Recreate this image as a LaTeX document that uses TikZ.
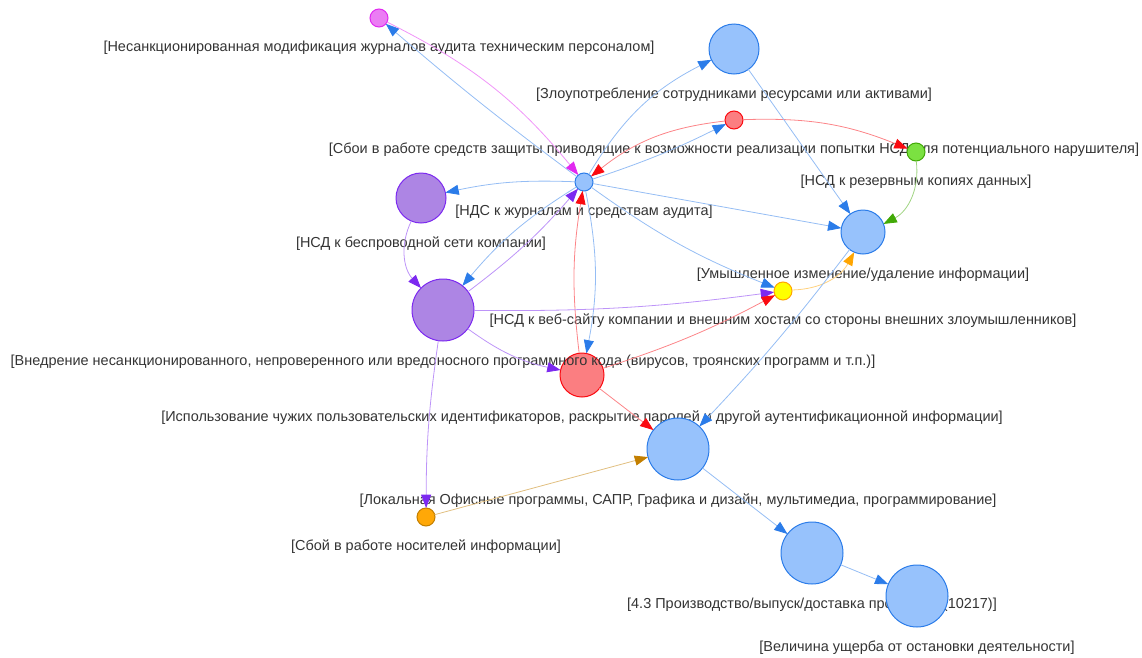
\documentclass[tikz,border=0pt]{standalone}
\usepackage{fontspec}
\setmainfont{Liberation Sans}
\usetikzlibrary{arrows.meta}

\definecolor{blueF}{HTML}{97C2FC}
\definecolor{blueB}{HTML}{2B7CE9}
\definecolor{redF}{HTML}{FB7E81}
\definecolor{redB}{HTML}{FA0A10}
\definecolor{greenF}{HTML}{7BE141}
\definecolor{greenB}{HTML}{41A906}
\definecolor{purpF}{HTML}{AD85E4}
\definecolor{purpB}{HTML}{7C29F0}
\definecolor{magF}{HTML}{EB7DF4}
\definecolor{magB}{HTML}{E129F0}
\definecolor{yelF}{HTML}{FFFF00}
\definecolor{yelB}{HTML}{FFA500}
\definecolor{orF}{HTML}{FFA807}
\definecolor{orB}{HTML}{C37F00}
\definecolor{txt}{HTML}{343434}

\begin{document}
\begin{tikzpicture}[x=0.75pt, y=-0.75pt, label distance=10pt,
    main/.style = {draw, circle, inner sep=0pt, outer sep=0pt, line width=0.75pt},
    lab/.style = {font=\fontsize{10.85}{12}\selectfont, text=txt, inner sep=0pt, text height=7.8pt, text depth=2.3pt},
    dot/.style = {minimum size=13.5pt},
    mid/.style = {minimum size=33pt},
    big/.style = {minimum size=37.5pt},
    huge/.style = {minimum size=46.5pt},
    nblue/.style = {fill=blueF, draw=blueB},
    nred/.style = {fill=redF, draw=redB},
    ngreen/.style = {fill=greenF, draw=greenB},
    npurp/.style = {fill=purpF, draw=purpB},
    nmag/.style = {fill=magF, draw=magB},
    nyel/.style = {fill=yelF, draw=yelB},
    nor/.style = {fill=orF, draw=orB},
    edge/.style = {line width=0.6pt},
    blueedge/.style = {edge, draw=blueB!50!white, -{Triangle[length=10pt, width=7.5pt, color=blueB]}},
    rededge/.style = {edge, draw=redB!50!white, -{Triangle[length=10pt, width=7.5pt, color=redB]}},
    greenedge/.style = {edge, draw=greenB!50!white, -{Triangle[length=10pt, width=7.5pt, color=greenB]}},
    purpedge/.style = {edge, draw=purpB!50!white, -{Triangle[length=10pt, width=7.5pt, color=purpB]}},
    magedge/.style = {edge, draw=magB!50!white, -{Triangle[length=10pt, width=7.5pt, color=magB]}},
    yeledge/.style = {edge, draw=yelB!50!white, -{Triangle[length=10pt, width=7.5pt, color=yelB]}},
    oredge/.style = {edge, draw=orB!50!white, -{Triangle[length=10pt, width=7.5pt, color=orB]}}]
    \useasboundingbox (0,0) rectangle (1142,657);
    \node[main, nmag, dot](1) at (379,18) [label={[lab, name=l1]below:{[Несанкционированная модификация журналов аудита техническим персоналом]}}] {};
    \node[main, nblue, dot](2) at (584,182) [label={[lab, name=l2]below:{[НДС к журналам и средствам аудита]}}] {};
    \node[main, nblue, big](3) at (734,49) [label={[lab, name=l3]below:{[Злоупотребление сотрудниками ресурсами или активами]}}] {};
    \node[main, nred, dot](4) at (734,120) [label={[lab, name=l4]below:{[Сбои в работе средств защиты приводящие к возможности реализации попытки НСД для потенциального нарушителя]}}] {};
    \node[main, ngreen, dot](5) at (916,152) [label={[lab, name=l5]below:{[НСД к резервным копиях данных]}}] {};
    \node[main, nblue, mid](6) at (863,232) [label={[lab, name=l6]below:{[Умышленное изменение/удаление информации]}}] {};
    \node[main, nyel, dot](7) at (783,291) [label={[lab, name=l7]below:{[НСД к веб-сайту компании и внешним хостам со стороны внешних злоумышленников]}}] {};
    \node[main, npurp, big](8) at (421,198) [label={[lab, name=l8]below:{[НСД к беспроводной сети компании]}}] {};
    \node[main, nred, mid](10) at (582,375) [label={[lab, name=l10]below:{[Использование чужих пользовательских идентификаторов, раскрытие паролей и другой аутентификационной информации]}}] {};
    \node[main, npurp, huge](9) at (443,310) [label={[lab, name=l9]below:{[Внедрение несанкционированного, непроверенного или вредоносного программного кода (вирусов, троянских программ и т.п.)]}}] {};
    \node[main, nblue, huge](11) at (678,449) [label={[lab, name=l11]below:{[Локальная Офисные программы, САПР, Графика и дизайн, мультимедиа, программирование]}}] {};
    \node[main, nor, dot](12) at (426,517) [label={[lab, name=l12]below:{[Сбой в работе носителей информации]}}] {};
    \node[main, nblue, huge](13) at (812,553) [label={[lab, name=l13]below:{[4.3 Производство/выпуск/доставка продукции (10217)]}}] {};
    \node[main, nblue, huge](14) at (917,596) [label={[lab, name=l14]below:{[Величина ущерба от остановки деятельности]}}] {};
    \draw[blueedge] (2) to [bend left=2] (1);
    \draw[magedge] (1) to [bend left=12] (2);
    \draw[blueedge] (2) to [bend left=16] (3);
    \draw[blueedge] (2) to [bend right=4] (4);
    \draw[rededge] (4) to [bend right=16] (2);
    \draw[rededge] (4) to [bend left=12] (5);
    \draw[blueedge] (3) to (6);
    \draw[greenedge] (5) to [bend left=35] (6);
    \draw[blueedge] (2) to (6);
    \draw[blueedge] (2) to [bend right=7] (8);
    \draw[blueedge] (2) to [bend right=7] (7);
    \draw[blueedge] (2) to [bend right=9] (9);
    \draw[purpedge] (9) to [bend right=6] (2);
    \draw[rededge] (10) to [bend left=8] (2);
    \draw[blueedge] (2) to [bend left=11] (10);
    \draw[purpedge] (8) to [bend right=34] (9);
    \draw[purpedge] (9) to [bend right=4] (7);
    \draw[rededge] (10) to [bend right=5] (7);
    \draw[yeledge] (7) to [bend right=30] (6);
    \draw[purpedge] (9) to [bend right=12] (10);
    \draw[purpedge] (9) to [bend right=4] (12);
    \draw[blueedge] (6) to [bend left=3] (11);
    \draw[rededge] (10) to (11);
    \draw[oredge] (12) to (11);
    \draw[blueedge] (11) to (13);
    \draw[blueedge] (13) to (14);
\end{tikzpicture}
\end{document}
